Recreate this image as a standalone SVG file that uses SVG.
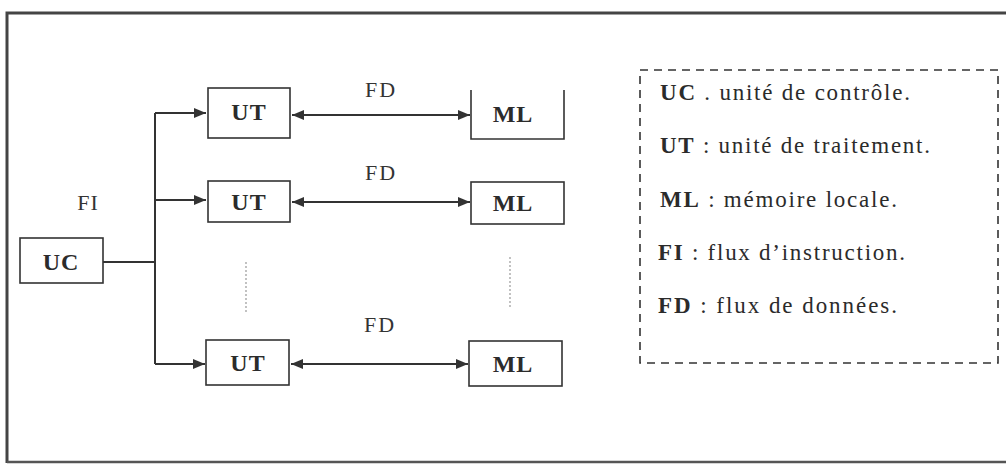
<svg xmlns="http://www.w3.org/2000/svg" width="1006" height="465" viewBox="0 0 1006 465">
<style>
.box{fill:#fff;stroke:#333;stroke-width:1.6}
.nt{font-family:'Liberation Serif','Times New Roman',serif;font-weight:bold;font-size:24px;fill:#2b2b2b;text-anchor:middle;letter-spacing:1px}
.lbl{font-family:'Liberation Serif','Times New Roman',serif;font-size:22px;fill:#333;text-anchor:middle;letter-spacing:2px}
.leg{font-family:'Liberation Serif','Times New Roman',serif;font-size:23px;fill:#2b2b2b}
.b{font-weight:bold}
.ln{fill:none;stroke:#333;stroke-width:2}
.dot{fill:none;stroke:#999;stroke-width:1.2;stroke-dasharray:2 2}
</style>
<defs>
<marker id="ah" viewBox="0 0 12 10" refX="12" refY="5" markerWidth="12" markerHeight="10" markerUnits="userSpaceOnUse" orient="auto-start-reverse">
<path d="M0,0 L12,5 L0,10 Z" fill="#333"/>
</marker>
</defs>
<rect x="0" y="0" width="1006" height="465" fill="#fff"/>
<path d="M7,463 L7,13 L1010,13" fill="none" stroke="#444" stroke-width="3"/>
<path d="M7,462 L1010,462" fill="none" stroke="#555" stroke-width="2.5"/>

<g id="connectors">
<path class="ln" d="M103,262 L155,262"/>
<path class="ln" d="M155,113 L155,364"/>
<path class="ln" d="M155,113 L206,113" marker-end="url(#ah)"/>
<path class="ln" d="M155,200 L206,200" marker-end="url(#ah)"/>
<path class="ln" d="M155,364 L205,364" marker-end="url(#ah)"/>
<path class="ln" d="M292,115 L470,115" marker-start="url(#ah)" marker-end="url(#ah)"/>
<path class="ln" d="M292,202 L470,202" stroke-width="1.4" marker-start="url(#ah)" marker-end="url(#ah)"/>
<path class="ln" d="M291,364 L468,364" marker-start="url(#ah)" marker-end="url(#ah)"/>
<path class="dot" d="M246,262 L246,312"/>
<path class="dot" d="M510,257 L510,308"/>
</g>

<g id="uc"><rect class="box" x="20" y="238" width="83" height="45"/><text class="nt" x="61" y="270">UC</text></g>
<g id="ut1"><rect class="box" x="208" y="88" width="82" height="50"/><text class="nt" x="249" y="120">UT</text></g>
<g id="ut2"><rect class="box" x="208" y="181" width="82" height="41"/><text class="nt" x="249" y="210">UT</text></g>
<g id="ut3"><rect class="box" x="206" y="340" width="83" height="45"/><text class="nt" x="248" y="371">UT</text></g>
<g id="ml1"><path class="box" d="M471,90 L471,139 L564,139 L564,90"/><text class="nt" x="513" y="122">ML</text></g>
<g id="ml2"><rect class="box" x="471" y="182" width="93" height="42"/><text class="nt" x="513" y="211">ML</text></g>
<g id="ml3"><rect class="box" x="469" y="341" width="93" height="45"/><text class="nt" x="513" y="372">ML</text></g>

<g id="labels">
<text class="lbl" x="381" y="97">FD</text>
<text class="lbl" x="381" y="180">FD</text>
<text class="lbl" x="380" y="332">FD</text>
<text class="lbl" x="88" y="210" style="letter-spacing:1px">FI</text>
</g>

<g id="legend">
<rect x="640" y="70" width="358" height="293" fill="none" stroke="#333" stroke-width="1.6" stroke-dasharray="8 6"/>
<text class="leg" x="660" y="100" textLength="250" lengthAdjust="spacing"><tspan class="b">UC</tspan> . unité de contrôle.</text>
<text class="leg" x="660" y="153" textLength="270" lengthAdjust="spacing"><tspan class="b">UT</tspan> : unité de traitement.</text>
<text class="leg" x="660" y="207" textLength="237" lengthAdjust="spacing"><tspan class="b">ML</tspan> : mémoire locale.</text>
<text class="leg" x="658" y="260" textLength="247" lengthAdjust="spacing"><tspan class="b">FI</tspan> : flux d’instruction.</text>
<text class="leg" x="658" y="313" textLength="239" lengthAdjust="spacing"><tspan class="b">FD</tspan> : flux de données.</text>
</g>
</svg>
